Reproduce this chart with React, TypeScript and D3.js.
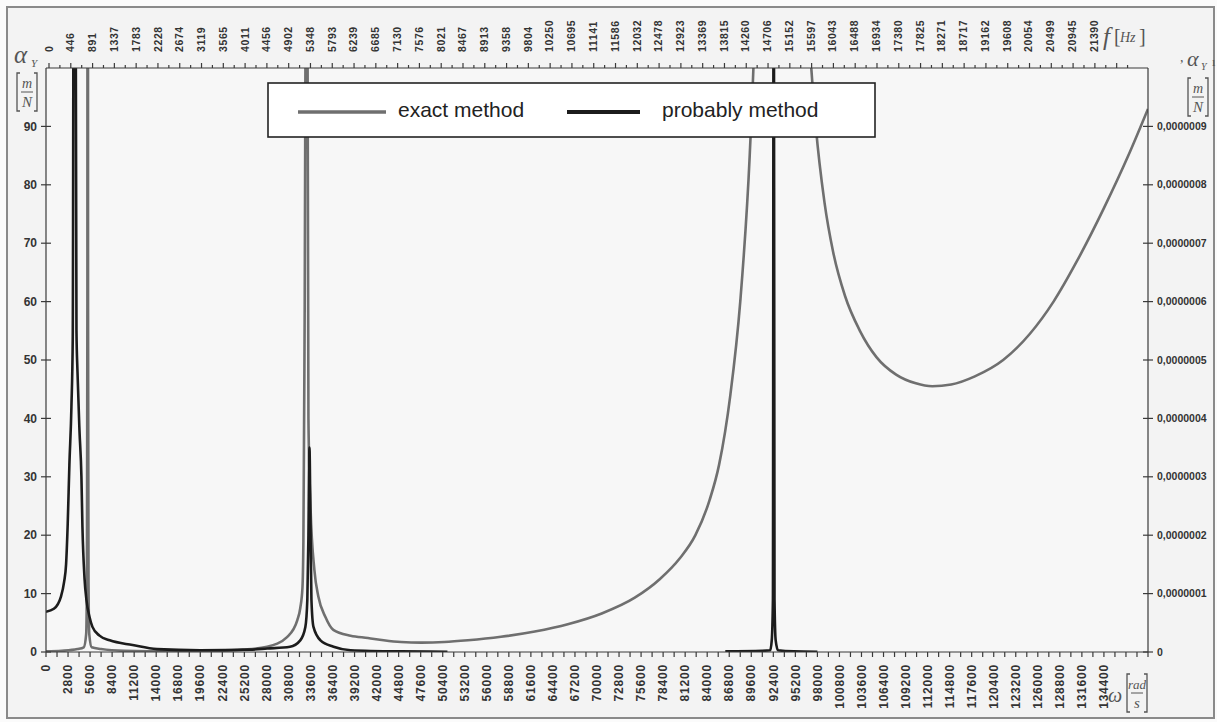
import React from "react";
import * as d3 from "d3";

const W = 1217;
const H = 722;

// bottom axis, omega [rad/s]
const omegaTicks = [
  0, 2800, 5600, 8400, 11200, 14000, 16800, 19600, 22400, 25200, 28000, 30800, 33600, 36400, 39200,
  42000, 44800, 47600, 50400, 53200, 56000, 58800, 61600, 64400, 67200, 70000, 72800, 75600, 78400,
  81200, 84000, 86800, 89600, 92400, 95200, 98000, 100800, 103600, 106400, 109200, 112000, 114800,
  117600, 120400, 123200, 126000, 128800, 131600, 134400,
];
// top axis, f [Hz]
const freqTicks = [
  0, 446, 891, 1337, 1783, 2228, 2674, 3119, 3565, 4011, 4456, 4902, 5348, 5793, 6239, 6685, 7130,
  7576, 8021, 8467, 8913, 9358, 9804, 10250, 10695, 11141, 11586, 12032, 12478, 12923, 13369, 13815,
  14260, 14706, 15152, 15597, 16043, 16488, 16934, 17380, 17825, 18271, 18717, 19162, 19608, 20054,
  20499, 20945, 21390,
];
const leftTicks = [0, 10, 20, 30, 40, 50, 60, 70, 80, 90];
const rightTicks = [0, 1e-7, 2e-7, 3e-7, 4e-7, 5e-7, 6e-7, 7e-7, 8e-7, 9e-7];

// exact method -> right axis [m/N]
const exactOmega = [
  0, 2000, 4000, 4800, 5100, 5200, 5260, 5300, 5340, 5400, 5500, 5800, 7000, 10000, 16000, 22000,
  25000, 28100, 30660, 31940, 32300, 32580, 32700, 32830, 33000, 33090, 33200, 33340, 33600, 34100,
  34600, 35500, 36500, 38700, 40900, 42900, 45100, 47700, 50600, 53600, 57800, 62100, 66400, 70600,
  74800, 78000, 80500, 82500, 84300, 85500, 86940, 88200, 89400, 90000, 91500, 93000, 95000, 96500,
  97000, 97800, 98900, 100000, 101500, 103400, 105500, 108000, 110500, 112600, 115000, 118000,
  121600, 125000, 128000, 131000, 134400, 137500, 140000,
];
const exactAlpha = [
  1e-9, 2e-9, 5e-9, 8e-9, 3e-8, 1.2e-7, 6e-7, 4e-6, 6e-7, 1.2e-7, 3e-8, 8e-9, 5e-9, 2e-9, 1e-9,
  2e-9, 4e-9, 9e-9, 2.6e-8, 5.5e-8, 7.5e-8, 1.1e-7, 1.9e-7, 4.9e-7, 1.2e-6, 3e-6, 1.2e-6, 4e-7,
  2.5e-7, 1.4e-7, 9.5e-8, 6e-8, 3.8e-8, 2.8e-8, 2.4e-8, 2e-8, 1.7e-8, 1.6e-8, 1.7e-8, 2e-8, 2.6e-8,
  3.5e-8, 4.8e-8, 6.6e-8, 9.3e-8, 1.25e-7, 1.6e-7, 2e-7, 2.6e-7, 3.2e-7, 4.4e-7, 6e-7, 8.5e-7,
  1.05e-6, 2e-6, 2.5e-6, 1.8e-6, 1.2e-6, 1.05e-6, 9e-7, 7.7e-7, 6.85e-7, 6.1e-7, 5.5e-7, 5.05e-7,
  4.75e-7, 4.6e-7, 4.55e-7, 4.58e-7, 4.72e-7, 5e-7, 5.45e-7, 6e-7, 6.7e-7, 7.6e-7, 8.5e-7, 9.3e-7,
];

// probably method -> left axis [m/N]
const probOmega = [
  0, 1000, 1900, 2300, 2550, 2760, 2970, 3230, 3400, 3550, 3700, 3870, 4000, 4250, 4500, 4630, 4890,
  5140, 5530, 5900, 6800, 8100, 11000, 14100, 19600, 25900, 28100, 31000, 32300, 32950, 33200, 33340,
  33470, 33600, 33720, 33980, 34870, 36530, 38700, 45100, 51000, 60000, 86300, 91000, 92000, 92200,
  92350, 92450, 92550, 92700, 93000, 95000, 98000,
];
const probAlpha = [
  6.9, 7.4, 9.5, 12, 15, 22, 32, 42, 54, 150, 150, 55, 48, 38, 30, 21.4, 12.7, 8.9, 6, 4.3, 2.8, 2,
  1.2, 0.5, 0.3, 0.4, 0.6, 0.9, 2, 4.3, 9, 20, 35, 22, 9, 4.3, 2, 0.9, 0.3, 0.1, 0.05, null, 0.1, 0.2,
  0.3, 2, 9, 150, 9, 2, 0.3, 0.1, 0.05,
];

const seriesNames = ["exact method", "probably method"];

const M = { left: 46, right: 1148, top: 68, bottom: 652 };

const x = d3.scaleLinear().domain([0, 140000]).range([M.left, M.right]);
// the secondary (top) category axis is laid out a little narrower than the bottom one
const xTop = d3.scaleLinear().domain([0, 21390]).range([49, 1094]);
const yL = d3.scaleLinear().domain([0, 100]).range([M.bottom, M.top]);
const yR = d3.scaleLinear().domain([0, 1e-6]).range([M.bottom, M.top]);

const commaFmt = d3.formatLocale({ decimal: ",", thousands: ".", grouping: [3], currency: ["", ""] }).format(".7f");

const GRAY = "#6f6f6f";
const BLACK = "#1c1c1c";
const AX = "#3a3a3a";
const TXT = "#333";

function Frac({ cx, top, num, den }: { cx: number; top: number; num: string; den: string }) {
  const hw = 10;
  const h = 38;
  return (
    <g fill="#555" stroke="#555">
      <path d={`M${cx - hw + 3},${top} H${cx - hw} V${top + h} H${cx - hw + 3}`} fill="none" strokeWidth={1.3} />
      <path d={`M${cx + hw - 3},${top} H${cx + hw} V${top + h} H${cx + hw - 3}`} fill="none" strokeWidth={1.3} />
      <line x1={cx - hw + 4} x2={cx + hw - 4} y1={top + h / 2} y2={top + h / 2} strokeWidth={1} />
      <text x={cx} y={top + h / 2 - 4} textAnchor="middle" stroke="none" fontFamily="Liberation Serif" fontStyle="italic" fontSize={num.length > 1 ? 13 : 14}>
        {num}
      </text>
      <text x={cx} y={top + h - 4} textAnchor="middle" stroke="none" fontFamily="Liberation Serif" fontStyle="italic" fontSize={15}>
        {den}
      </text>
    </g>
  );
}

export default function App() {
  const exactData = exactOmega.map((w, i) => ({ w, a: exactAlpha[i] }));
  const probData = probOmega.map((w, i) => ({ w, a: probAlpha[i] }));

  const exactLine = d3
    .line<{ w: number; a: number }>()
    .x((d) => x(d.w))
    .y((d) => yR(d.a))
    .curve(d3.curveMonotoneX);
  const probLine = d3
    .line<{ w: number; a: number | null }>()
    .defined((d) => d.a != null)
    .x((d) => x(d.w))
    .y((d) => yL(d.a as number))
    .curve(d3.curveMonotoneX);

  const allTicks = d3.range(0, 140001, 1400);
  const stepTop = (freqTicks[1] - freqTicks[0]) / 2;
  const topTicks = d3.range(0, 22200, stepTop).filter((f) => xTop(f) <= M.right);

  return (
    <div style={{ position: "absolute", left: 0, top: 0 }}>
      <svg width={W} height={H} style={{ display: "block", fontFamily: "Liberation Sans, Arial, sans-serif" }}>
        <rect x={0} y={0} width={W} height={H} fill="#fbfbfb" />
        <rect x={7} y={7} width={1207} height={711} fill="#f3f3f3" stroke="#8a8a8a" strokeWidth={2} />
        <rect x={M.left} y={M.top} width={M.right - M.left} height={M.bottom - M.top} fill="#f7f7f7" />

        <defs>
          <clipPath id="plot">
            <rect x={M.left} y={M.top} width={M.right - M.left} height={M.bottom - M.top} />
          </clipPath>
        </defs>

        <g clipPath="url(#plot)" fill="none" strokeLinejoin="round">
          <path d={exactLine(exactData) || ""} stroke={GRAY} strokeWidth={2.6} />
          <path d={probLine(probData) || ""} stroke={BLACK} strokeWidth={2.6} />
        </g>

        {/* axes frame */}
        <g stroke={AX} strokeWidth={1.2}>
          <line x1={M.left} x2={M.right} y1={M.top} y2={M.top} />
          <line x1={M.left} x2={M.right} y1={M.bottom} y2={M.bottom} />
          <line x1={M.left} x2={M.left} y1={M.top} y2={M.bottom} />
          <line x1={M.right} x2={M.right} y1={M.top} y2={M.bottom} />
          {allTicks.map((t, i) => (
            <line key={"b" + i} x1={x(t)} x2={x(t)} y1={M.bottom} y2={M.bottom + 5} />
          ))}
          {topTicks.map((t, i) => (
            <line key={"t" + i} x1={xTop(t)} x2={xTop(t)} y1={M.top} y2={M.top - (i % 2 === 0 ? 5 : 3)} />
          ))}
          {leftTicks.map((t) => (
            <line key={"l" + t} x1={M.left - 5} x2={M.left + 5} y1={yL(t)} y2={yL(t)} />
          ))}
          {rightTicks.map((t) => (
            <line key={"r" + t} x1={M.right - 5} x2={M.right + 5} y1={yR(t)} y2={yR(t)} />
          ))}
        </g>

        {/* tick labels */}
        <g fill={TXT} fontWeight="bold">
          {omegaTicks.map((t) => (
            <text key={"ob" + t} transform={`translate(${x(t)},${M.bottom + 12}) rotate(-90)`} textAnchor="end" dy="0.35em" fontSize={12} letterSpacing={0.8}>
              {t}
            </text>
          ))}
          {freqTicks.map((f, i) => (
            <text key={"ft" + i} transform={`translate(${xTop(f)},${M.top - 16}) rotate(-90)`} textAnchor="start" dy="0.35em" fontSize={10.5} letterSpacing={0.6}>
              {f}
            </text>
          ))}
          {leftTicks.map((t) => (
            <text key={"lt" + t} x={M.left - 9} y={yL(t)} dy="0.35em" textAnchor="end" fontSize={12}>
              {t}
            </text>
          ))}
          {rightTicks.map((t) => (
            <text key={"rt" + t} x={M.right + 9} y={yR(t)} dy="0.35em" textAnchor="start" fontSize={10.5}>
              {t === 0 ? "0" : commaFmt(t)}
            </text>
          ))}
        </g>

        {/* axis titles */}
        <g fill="#555" fontFamily="Liberation Serif" fontStyle="italic">
          <text x={14} y={63} fontSize={25}>α</text>
          <text x={31} y={67} fontSize={11}>Y</text>
          <text x={1187} y={66} fontSize={22}>α</text>
          <text x={1201} y={70} fontSize={10}>Y</text>
          <text x={1180} y={62} fontSize={14} fontStyle="normal">,</text>
          <text x={1212} y={66} fontSize={12} fontStyle="normal">ı</text>
          <text x={1103} y={45} fontSize={25}>f</text>
          <text x={1114} y={43} fontSize={20} fontStyle="normal">[</text>
          <text x={1120} y={42} fontSize={14}>Hz</text>
          <text x={1139} y={43} fontSize={20} fontStyle="normal">]</text>
          <text x={1108} y={702} fontSize={20}>ω</text>
        </g>
        <Frac cx={27} top={73} num="m" den="N" />
        <Frac cx={1198} top={78} num="m" den="N" />
        <Frac cx={1137} top={674} num="rad" den="s" />

        {/* legend */}
        <g>
          <rect x={268} y={83} width={607} height={54} fill="#fff" stroke="#222" strokeWidth={1.6} />
          <line x1={298} x2={386} y1={112} y2={112} stroke={GRAY} strokeWidth={3.5} />
          <text x={398} y={117} fontSize={21} fill="#222">{seriesNames[0]}</text>
          <line x1={567} x2={640} y1={112} y2={112} stroke={BLACK} strokeWidth={4} />
          <text x={662} y={117} fontSize={21} fill="#222">{seriesNames[1]}</text>
        </g>
      </svg>
    </div>
  );
}
